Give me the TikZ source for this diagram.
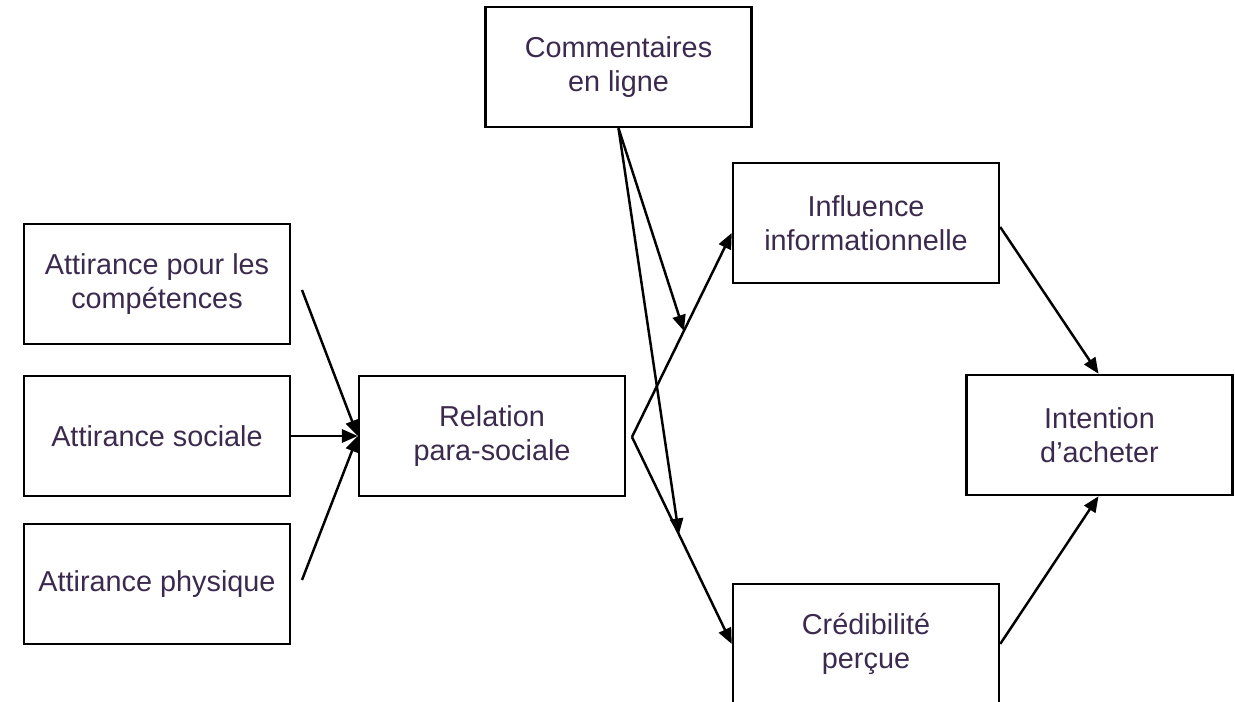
\documentclass[tikz,border=0pt]{standalone}
\usepackage{fontspec}
\setmainfont{Liberation Sans}
\usepackage{tikz}
\usetikzlibrary{arrows.meta}
\usetikzlibrary{calc}
\definecolor{boxtext}{RGB}{60,42,78}
\tikzset{% boxes and arrows
        block/.style={draw, line width=1.4pt, minimum width=5.32cm,
                      minimum height=2.4cm, inner sep=0pt, align=center,
                      text=boxtext, font=\fontsize{16.4}{19.3}\selectfont},
        link/.style={->, line width=1.4pt, >={Triangle[length=9pt,width=7.5pt]}}
        }

\begin{document}
\begin{tikzpicture}
\useasboundingbox (0,0) rectangle (24.7,14.04);
\node[block] (comp) at (3.14,8.36) {Attirance pour les\\compétences};
\node[block] (soc) at (3.14,5.32) {Attirance sociale};
\node[block] (phys) at (3.14,2.36) {Attirance physique};
\node[block] (rel) at (9.84,5.32) {Relation\\para-sociale};
\node[block] (comm) at (12.37,12.70) {Commentaires\\en ligne};
\node[block] (infl) at (17.32,9.58) {Influence\\informationnelle};
\node[block] (cred) at (17.32,1.16) {Crédibilité\\perçue};
\node[block] (int) at (21.99,5.34) {Intention\\d’acheter};

\coordinate (c1) at (6.04,8.24);
\coordinate (c3) at (6.04,2.44);
\coordinate (rv) at (12.64,5.30);
\coordinate (iw) at ($(infl.west)+(0,-0.2)$);
\coordinate (m1) at ($(rv)!0.52!(iw)$);
\coordinate (m2) at ($(rv)!0.47!(cred.west)$);

\draw[link] (c1) -- (rel.west);
\draw[link] (soc.east) -- (rel.west);
\draw[link] (c3) -- (rel.west);

\draw[link] (rv) -- (iw);
\draw[link] (rv) -- (cred.west);

\draw[link] (comm.south) -- (m1);
\draw[link] (comm.south) -- (m2);

\draw[link] ($(infl.east)+(0,-0.08)$) -- ($(int.north)+(-0.02,0)$);
\draw[link] (cred.east) -- ($(int.south)+(-0.02,0)$);
\end{tikzpicture}
\end{document}
